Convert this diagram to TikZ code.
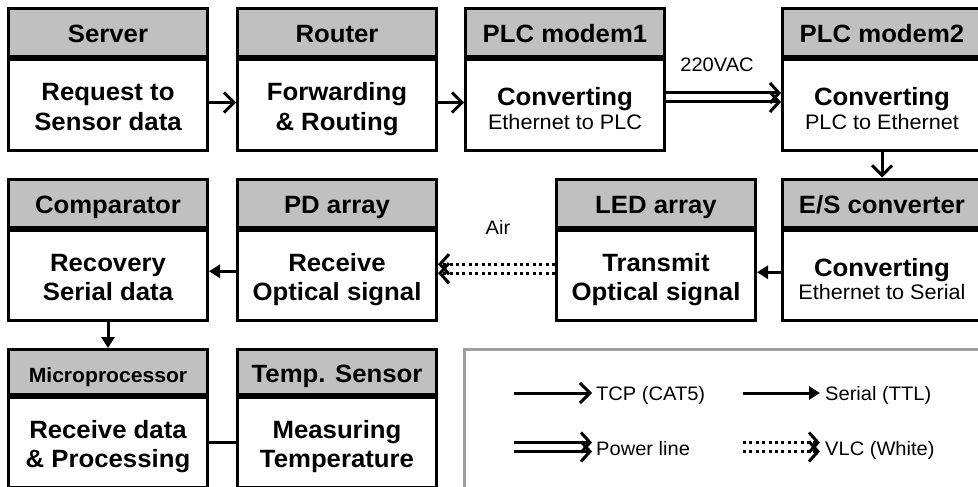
\documentclass[tikz,border=0pt]{standalone}
\usepackage{fontspec}
\setmainfont[FakeStretch=1.03]{Liberation Sans}
\usetikzlibrary{arrows.meta,calc}
\definecolor{hdrgray}{RGB}{192,192,192}
\definecolor{leggray}{RGB}{158,158,158}
\tikzset{
  hdr/.style={draw=black, line width=3pt, fill=hdrgray, minimum width=199pt,
    inner sep=0pt, anchor=north west, text height=20pt, text depth=0pt,
    font=\fontsize{25}{29}\selectfont\bfseries},
  bdy/.style={draw=black, line width=3pt, fill=white, minimum width=199pt,
    inner sep=0pt, anchor=north west},
  bt/.style={inner sep=0pt, anchor=base, font=\fontsize{25}{29}\selectfont\bfseries},
  st/.style={inner sep=0pt, anchor=base, font=\fontsize{21}{24}\selectfont},
  lt/.style={inner sep=0pt, anchor=base west, font=\fontsize{19.5}{23}\selectfont},
  tcp/.style={line width=3pt, -{Straight Barb[length=10pt,width=20pt]}},
  serial/.style={line width=3pt, -{Triangle[length=11pt,width=13pt]}},
  pwr/.style={line width=3pt, -{Straight Barb[length=9pt,width=20pt]}},
  vlc/.style={line width=3pt, dash pattern=on 3pt off 3.4pt, -{Straight Barb[length=9pt,width=20pt]}},
  plain/.style={line width=3pt},
}
\newcommand\blk[6]{%
  \node[hdr, minimum height=#4] (#1h) at (#2,#3) {#6};
  \node[bdy, minimum height=#5] (#1) at (#1h.south west) {};
}
\newcommand\twoline[3]{%
  \node[bt] (#1a) at ($(#1.center)+(0,-4)$) {#2};
  \node[bt] (#1b) at ($(#1.center)+(0,25)$) {#3};
}
\newcommand\convline[3]{%
  \node[bt] (#1a) at ($(#1.center)+(0,1)$) {#2};
  \node[st] (#1b) at ($(#1.center)+(0,24)$) {#3};
}
\begin{document}
\begin{tikzpicture}[x=1pt,y=-1pt]
\clip (0,0) rectangle (978,487);
\fill[white] (0,0) rectangle (978,487);
% row 1
\blk{server}{7}{7}{48pt}{91pt}{Server}
\blk{router}{236}{7}{48pt}{91pt}{Router}
\blk{plca}{464}{7}{48pt}{91pt}{PLC modem1}
\blk{plcb}{781}{7}{48pt}{91pt}{PLC modem2}
\twoline{server}{Request to}{Sensor data}
\twoline{router}{Forwarding}{\& Routing}
\convline{plca}{Converting}{Ethernet to PLC}
\convline{plcb}{Converting}{PLC to Ethernet}
% row 2
\blk{comp}{7}{177.5}{48.5pt}{89.5pt}{Comparator}
\blk{pd}{236}{177.5}{48.5pt}{89.5pt}{PD array}
\blk{led}{555}{177.5}{48.5pt}{89.5pt}{LED array}
\blk{es}{781}{177.5}{48.5pt}{89.5pt}{E/S converter}
\twoline{comp}{Recovery}{Serial data}
\twoline{pd}{Receive}{Optical signal}
\twoline{led}{Transmit}{Optical signal}
\convline{es}{Converting}{Ethernet to Serial}
% row 3
\blk{micro}{7}{348}{45pt}{90pt}{\fontsize{20.5}{24}\selectfont Microprocessor}
\blk{temp}{236}{348}{45pt}{90pt}{Temp. Sensor}
\twoline{micro}{Receive data}{\& Processing}
\twoline{temp}{Measuring}{Temperature}
% connectors
\draw[tcp] ($(server.east)+(0,-2.5)$) -- ($(router.west)+(0,-2.5)$);
\draw[tcp] ($(router.east)+(0,-2.5)$) -- ($(plca.west)+(0,-2.5)$);
\draw[pwr] ($(plca.east)+(0,-12)$) -- ($(plcb.west)+(0,-12)$);
\draw[pwr] ($(plca.east)+(0,-3)$) -- ($(plcb.west)+(0,-3)$);
\node[lt, anchor=base] (vac) at (717,72) {220VAC};
\draw[tcp] (plcb.south) -- (esh.north);
\draw[serial] ($(es.west)+(0,-3)$) -- ($(led.east)+(0,-3)$);
\draw[vlc] ($(led.west)+(0,-11)$) -- ($(pd.east)+(0,-11)$);
\draw[vlc] ($(led.west)+(0,-2)$) -- ($(pd.east)+(0,-2)$);
\node[lt, anchor=base] (air) at (498,234) {Air};
\draw[serial] ($(pd.west)+(0,-4)$) -- ($(comp.east)+(0,-4)$);
\draw[serial] (comp.south) -- (microh.north);
\draw[plain] (micro.east) -- (temp.west);
% legend
\node[draw=leggray, line width=2.5pt, fill=white, minimum width=560pt, minimum height=160pt,
  inner sep=0pt, anchor=north west] (legend) at (463,348) {};
\coordinate (ta) at (514,393); \coordinate (tb) at (592,393);
\coordinate (sa) at (743,393); \coordinate (sb) at (820,393);
\coordinate (pa1) at (514,442.5); \coordinate (pb1) at (592,442.5);
\coordinate (pa2) at (514,451.5); \coordinate (pb2) at (592,451.5);
\coordinate (va1) at (743,442.5); \coordinate (vb1) at (820,442.5);
\coordinate (va2) at (743,451.5); \coordinate (vb2) at (820,451.5);
\draw[tcp] (ta) -- (tb);
\draw[serial] (sa) -- (sb);
\draw[pwr] (pa1) -- (pb1);
\draw[pwr] (pa2) -- (pb2);
\draw[vlc] (va1) -- (vb1);
\draw[vlc] (va2) -- (vb2);
\node[lt] (ltcp) at (596,400) {TCP (CAT5)};
\node[lt] (lser) at (825,400) {Serial (TTL)};
\node[lt] (lpwr) at (596,455) {Power line};
\node[lt] (lvlc) at (825,455) {VLC (White)};
\end{tikzpicture}
\end{document}
